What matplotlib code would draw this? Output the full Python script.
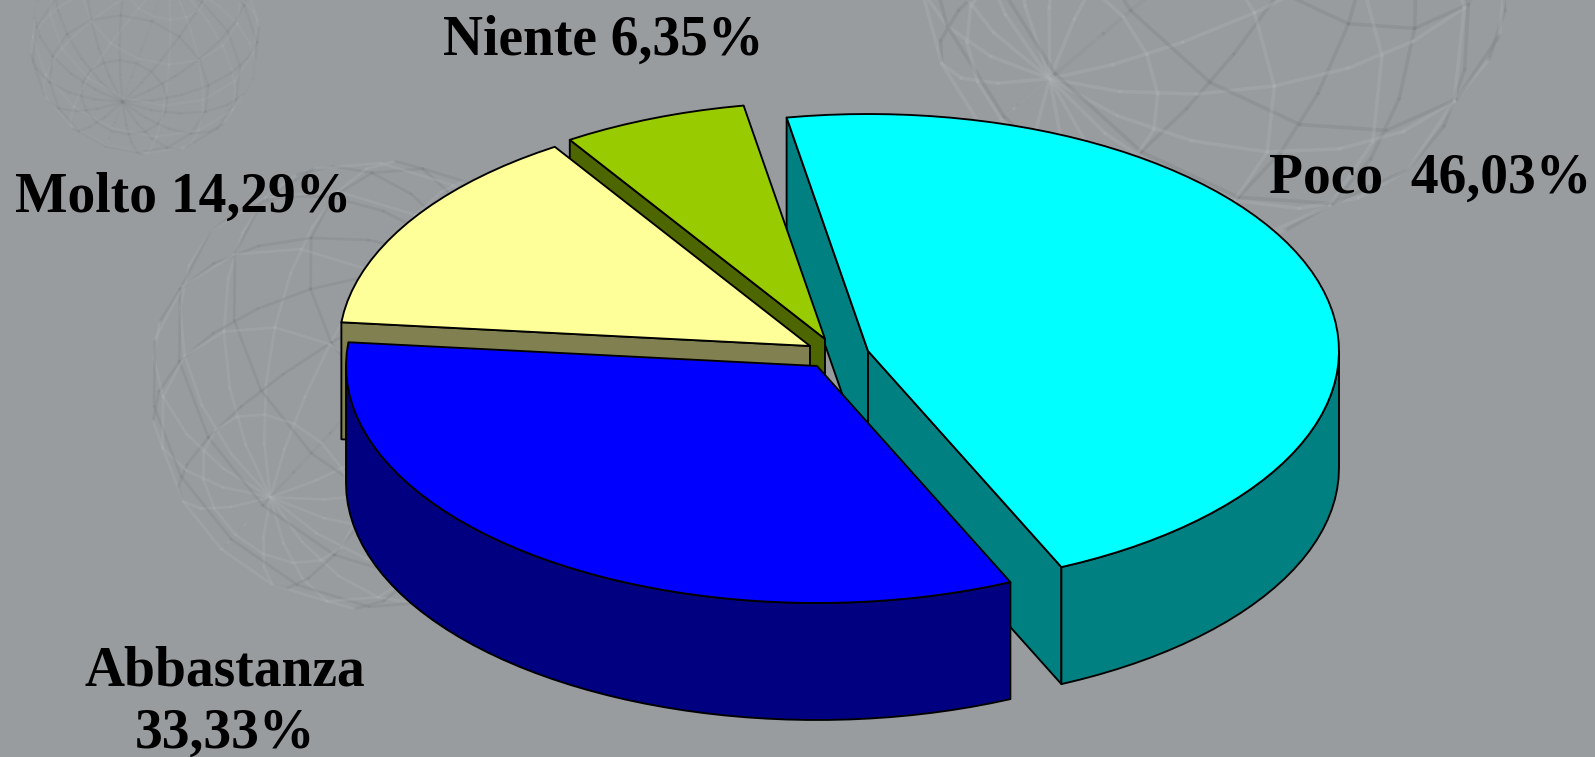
import numpy as np
import matplotlib
matplotlib.use('Agg')
import matplotlib.pyplot as plt
from matplotlib.patches import Polygon

# chart data
labels = ['Poco  46,03%', 'Abbastanza\n33,33%', 'Molto 14,29%', 'Niente 6,35%']
values = [46.03, 33.33, 14.29, 6.35]

# styles
top_colors = ['#00ffff', '#0000ff', '#ffff99', '#99cc00']
side_colors = ['#008080', '#000080', '#808050', '#4d6600']
centers = [(868, 351), (817, 366), (810, 346), (825, 339)]
draw_order = [0, 3, 2, 1]
# which straight edges show a cut face: 0 = start edge, 1 = end edge
cut_faces = [(0, 1), (), (0,), (0,)]
label_pos = [(1269, 193, 'left'), (225, 748, 'center'), (15, 212, 'left'), (603, 55, 'center')]
BG = '#989c9f'
RX, RY, DEPTH = 471, 237, 117
START = -9.95
EDGE = dict(edgecolor='black', linewidth=1.35, joinstyle='round')


def rim(center, t0, t1):
    t = np.radians(np.linspace(t0, t1, max(2, int(abs(t1 - t0) / 2.5) + 1)))
    return np.column_stack([center[0] + RX * np.sin(t), center[1] - RY * np.cos(t)])


def sphere(ax, cx, cy, r, tilt, spin, lw, alpha):
    # faint wire globe of the slide background
    t, s = np.radians(tilt), np.radians(spin)
    lines = []
    for lon in np.radians(np.arange(0, 180, 22.5)):
        a = np.radians(np.arange(0, 361, 15))
        lines.append(np.column_stack([np.cos(a) * np.cos(lon), np.cos(a) * np.sin(lon), np.sin(a)]))
    for lat in np.radians(np.arange(-67.5, 68, 22.5)):
        a = np.radians(np.arange(0, 361, 22.5))
        lines.append(np.column_stack([np.cos(lat) * np.cos(a), np.cos(lat) * np.sin(a), np.full_like(a, np.sin(lat))]))
    for p in lines:
        x, y, z = p.T
        y, z = y * np.cos(t) - z * np.sin(t), y * np.sin(t) + z * np.cos(t)
        x, y = x * np.cos(s) - y * np.sin(s), x * np.sin(s) + y * np.cos(s)
        for i in range(len(x) - 1):
            front = z[i] + z[i + 1] > 0
            ax.plot(cx + r * x[i:i + 2], cy + r * y[i:i + 2], color='#aeb2b5' if front else '#7f8386',
                    lw=lw, alpha=alpha, zorder=1, solid_capstyle='round')


fig = plt.figure(figsize=(15.95, 7.57), dpi=100, facecolor=BG)
ax = fig.add_axes([0, 0, 1, 1])
ax.set_xlim(0, 1595)
ax.set_ylim(757, 0)
ax.axis('off')

sphere(ax, 145, 40, 115, 35, 20, 1.8, 0.16)
sphere(ax, 375, 385, 225, -43, 43, 2.0, 0.3)
sphere(ax, 1215, -60, 300, -46, 50, 2.6, 0.34)

angles = START + np.cumsum([0] + values) / sum(values) * 360
z = 5
for i in draw_order:
    c, t0, t1 = centers[i], angles[i], angles[i + 1]
    apex = np.array(c, float)
    down = np.array([0, DEPTH])
    # cut faces hanging below the straight edges
    for k in cut_faces[i]:
        t = (t0, t1)[k]
        p = rim(c, t, t)[0]
        face = np.array([p, apex, apex + down, p + down])
        ax.add_patch(Polygon(face, closed=True, facecolor=side_colors[i], zorder=z, **EDGE))
    # outer wall on the front half of the ellipse
    w0, w1 = max(t0, 90), min(t1, 270)
    if w1 > w0:
        r = rim(c, w0, w1)
        wall = np.vstack([r, r[::-1] + down])
        ax.add_patch(Polygon(wall, closed=True, facecolor=side_colors[i], zorder=z + 1, **EDGE))
    top = np.vstack([apex, rim(c, t0, t1)])
    ax.add_patch(Polygon(top, closed=True, facecolor=top_colors[i], zorder=z + 2, **EDGE))
    z += 3

for lab, (x, y, ha) in zip(labels, label_pos):
    ax.text(x, y, lab, ha=ha, va='baseline', family='Liberation Serif', weight='bold',
            fontsize=40, color='black', zorder=50, linespacing=1.25, multialignment='center')

fig.savefig('out.png', dpi=100, facecolor=BG)
